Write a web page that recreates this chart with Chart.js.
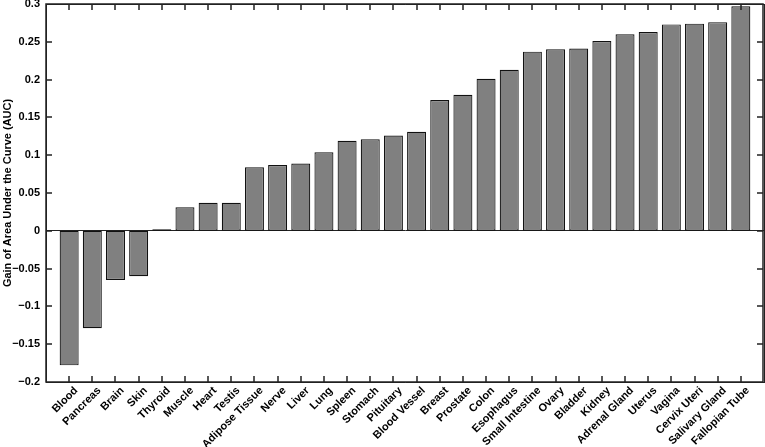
<!DOCTYPE html>
<html>
<head>
<meta charset="utf-8">
<script src="https://cdn.jsdelivr.net/npm/chart.js@4.4.1/dist/chart.umd.min.js"></script>
<style>
  html, body { margin: 0; padding: 0; background: #fff; }
  #wrap { width: 765px; height: 447px; }
</style>
</head>
<body>
<div id="wrap"><canvas id="myChart"></canvas></div>
<script>
// tissues, sorted by AUC gain
const tissues = [
  "Blood", "Pancreas", "Brain", "Skin", "Thyroid", "Muscle", "Heart", "Testis",
  "Adipose Tissue", "Nerve", "Liver", "Lung", "Spleen", "Stomach", "Pituitary",
  "Blood Vessel", "Breast", "Prostate", "Colon", "Esophagus", "Small Intestine",
  "Ovary", "Bladder", "Kidney", "Adrenal Gland", "Uterus", "Vagina",
  "Cervix Uteri", "Salivary Gland", "Fallopian Tube"
];
const gain = [
  -0.178, -0.129, -0.065, -0.060, 0.002, 0.031, 0.037, 0.037,
  0.084, 0.087, 0.089, 0.104, 0.119, 0.121, 0.126,
  0.131, 0.173, 0.180, 0.201, 0.213, 0.237,
  0.240, 0.241, 0.251, 0.260, 0.263, 0.273,
  0.274, 0.276, 0.297
];
const yTicks = [-0.2, -0.15, -0.1, -0.05, 0, 0.05, 0.1, 0.15, 0.2, 0.25, 0.3];

const fontFamily = "'Liberation Sans', Arial, sans-serif";
const font = { family: fontFamily, size: 11, weight: "bold" };
const axisColor = "#222";

// box, inward ticks and slanted category labels
const tickPlugin = {
  id: "matlabTicks",
  afterDraw(chart) {
    const c = chart.ctx;
    const a = chart.chartArea;
    const sx = chart.scales.x;
    const sy = chart.scales.y;
    const L = Math.round(a.left), R = Math.round(a.right);
    const T = Math.round(a.top), B = Math.round(a.bottom);
    c.save();
    c.strokeStyle = axisColor;
    c.lineWidth = 1.5;
    c.beginPath();
    c.rect(L, T, R - L - 1, B - T);
    tissues.forEach((name, i) => {
      const x = Math.round(sx.getPixelForValue(i + 1));
      c.moveTo(x, T); c.lineTo(x, T + 6);
      c.moveTo(x, B); c.lineTo(x, B - 6);
    });
    yTicks.forEach((v) => {
      const y = Math.round(sy.getPixelForValue(v));
      c.moveTo(L, y); c.lineTo(L + 6, y);
      c.moveTo(R - 1, y); c.lineTo(R - 7, y);
    });
    c.stroke();
    c.fillStyle = "#000";
    c.font = "bold 11px " + fontFamily;
    c.textAlign = "right";
    c.textBaseline = "top";
    tissues.forEach((name, i) => {
      const x = sx.getPixelForValue(i + 1);
      c.save();
      c.translate(x + 3, B + 3);
      c.rotate(-Math.PI / 4);
      c.fillText(name, 0, 0);
      c.restore();
    });
    c.restore();
  },
};

const noPad = (s) => {
  s.paddingLeft = 0; s.paddingRight = 0; s.paddingTop = 0; s.paddingBottom = 0;
};

// extra axes only for the closed box
const boxAxis = (position, min, max, size) => ({
  type: "linear",
  position,
  min,
  max,
  offset: false,
  afterFit: (s) => {
    if (s.isHorizontal()) s.height = size; else s.width = size;
    noPad(s);
  },
  grid: { display: false },
  border: { display: true, color: axisColor, width: 1 },
  ticks: { display: false },
});

const data = {
  datasets: [
    {
      data: gain.map((v, i) => ({ x: i + 1, y: v })),
      backgroundColor: "#808080",
      borderColor: "#111",
      borderWidth: 1.2,
      borderSkipped: false,
      barPercentage: 0.82,
      categoryPercentage: 1,
    },
  ],
};

const options = {
  responsive: true,
  maintainAspectRatio: false,
  animation: false,
  layout: { padding: { top: 4, right: 1, left: 0, bottom: 0 } },
  plugins: { legend: { display: false }, tooltip: { enabled: false } },
  scales: {
    x: boxAxis("bottom", 0, 31, 65),
    x2: boxAxis("top", 0, 31, 0),
    y2: boxAxis("right", -0.2, 0.3, 0),
    y: {
      min: -0.2,
      max: 0.3,
      afterFit: (s) => { s.width = 46; noPad(s); },
      afterBuildTicks: (s) => { s.ticks = yTicks.map((v) => ({ value: v })); },
      grid: {
        drawTicks: false,
        color: (c) => (c.tick && c.tick.value === 0 ? axisColor : "rgba(0,0,0,0)"),
      },
      border: { display: true, color: axisColor, width: 1 },
      ticks: {
        padding: 6,
        color: "#000",
        font,
        callback: (v) => {
          const r = Math.round(v * 100) / 100;
          return r < 0 ? "\u2212" + String(-r) : String(r);
        },
      },
      title: {
        display: true,
        text: "Gain of Area Under the Curve (AUC)",
        color: "#000",
        font,
        padding: { top: 1, bottom: 0 },
      },
    },
  },
};

const ctx = document.getElementById("myChart").getContext("2d");
let myChart = new Chart(ctx, { type: "bar", data, options, plugins: [tickPlugin] });
</script>
</body>
</html>
